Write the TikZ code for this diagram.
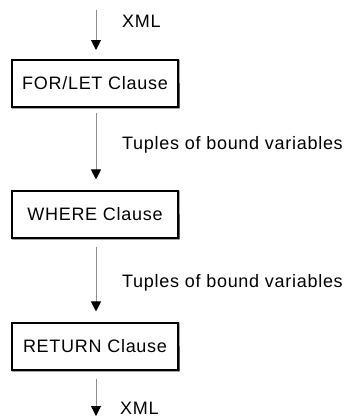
\documentclass[tikz,border=0pt]{standalone}
\usepackage{fontspec}
\setmainfont[LetterSpace=4]{Liberation Sans}
\usetikzlibrary{arrows.meta}
\begin{document}
\begin{tikzpicture}[x=1pt,y=-1pt,
  clausebox/.style={draw=black, line width=1.1pt, minimum width=166pt, minimum height=47pt, inner sep=0pt, font=\fontsize{18}{20}\selectfont},
  flow/.style={draw={rgb,255:red,140;green,140;blue,140}, line width=0.9pt, -{Triangle[black,width=10pt,length=10pt]}},
  lbl/.style={anchor=west, inner sep=0pt, font=\fontsize{18}{20}\selectfont}]
\useasboundingbox (0,0) rectangle (348,418);
\node[clausebox] (forlet) at (95,83.5) {FOR/LET Clause};
\node[clausebox] (where) at (95,214.5) {WHERE Clause};
\node[clausebox] (ret) at (95,346.5) {RETURN Clause};
\foreach \b in {forlet,where,ret}{
  \draw[line width=1.6pt] ([yshift=-0.3pt]\b.north east) -- ([xshift=0.3pt]\b.south east) -- ([xshift=0.3pt]\b.south west);
}
\coordinate (in) at (96,10);
\coordinate (out) at (96,416);
\draw[flow] (in) -- (96,50);
\draw[flow] ([xshift=1pt,yshift=-5pt]forlet.south) -- ([xshift=1pt,yshift=11pt]where.north);
\draw[flow] ([xshift=1pt,yshift=-8pt]where.south) -- ([xshift=1pt,yshift=11pt]ret.north);
\draw[flow] ([xshift=1pt,yshift=-8pt]ret.south) -- (out);
\node[lbl] (xml1) at (122,21) {XML};
\node[lbl] (t1) at (122,145) {Tuples of bound variables};
\node[lbl] (t2) at (122,283) {Tuples of bound variables};
\node[lbl] (xml2) at (120,408) {XML};
\end{tikzpicture}
\end{document}
